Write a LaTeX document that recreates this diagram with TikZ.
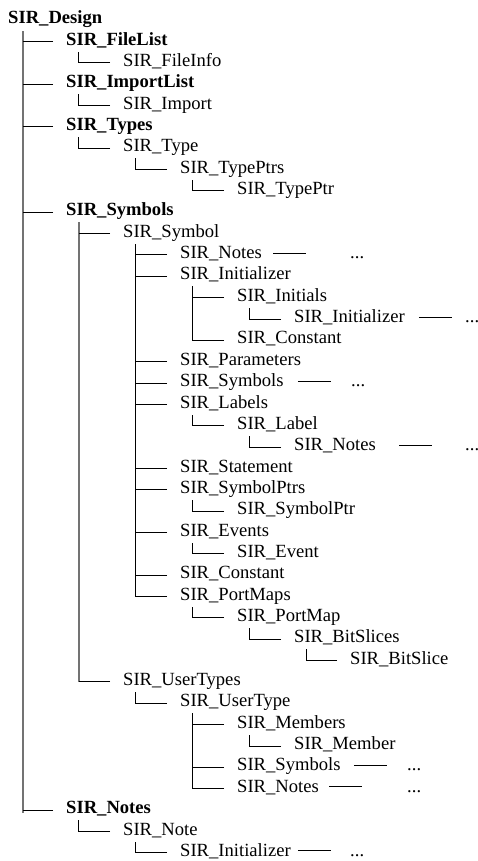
\documentclass[tikz,border=0pt]{standalone}
\usepackage{fontspec}
\setmainfont{Liberation Serif}
\begin{document}
\begin{tikzpicture}[x=1pt,y=-1pt,
  item/.style={anchor=base west,inner sep=0pt,font=\fontsize{18.6}{22}\selectfont},
  head/.style={item,font=\fontsize{18.6}{22}\selectfont\bfseries},
  conn/.style={draw=black,line width=0.8pt},
  spine/.style={draw=black!55,line width=1.4pt},
  dots/.style={item}]
\useasboundingbox (0,0) rectangle (478,861);

% tree entries (x = indent level, y = baseline)
\node[head] (n1)  at (8,23.7)    {SIR\_Design};
\node[head] (n2)  at (66,45.05)  {SIR\_FileList};
\node[item] (n3)  at (123,66.4)  {SIR\_FileInfo};
\node[head] (n4)  at (66,87.75)  {SIR\_ImportList};
\node[item] (n5)  at (123,109.1) {SIR\_Import};
\node[head] (n6)  at (66,130.45) {SIR\_Types};
\node[item] (n7)  at (123,151.8) {SIR\_Type};
\node[item] (n8)  at (180,173.15){SIR\_TypePtrs};
\node[item] (n9)  at (237,194.5) {SIR\_TypePtr};
\node[head] (n10) at (66,215.85) {SIR\_Symbols};
\node[item] (n11) at (123,237.2) {SIR\_Symbol};
\node[item] (n12) at (180,258.55){SIR\_Notes};
\node[item] (n13) at (180,279.9) {SIR\_Initializer};
\node[item] (n14) at (237,301.25){SIR\_Initials};
\node[item] (n15) at (294,322.6) {SIR\_Initializer};
\node[item] (n16) at (237,343.95){SIR\_Constant};
\node[item] (n17) at (180,365.3) {SIR\_Parameters};
\node[item] (n18) at (180,386.65){SIR\_Symbols};
\node[item] (n19) at (180,408.0) {SIR\_Labels};
\node[item] (n20) at (237,429.35){SIR\_Label};
\node[item] (n21) at (294,450.7) {SIR\_Notes};
\node[item] (n22) at (180,472.05){SIR\_Statement};
\node[item] (n23) at (180,493.4) {SIR\_SymbolPtrs};
\node[item] (n24) at (237,514.75){SIR\_SymbolPtr};
\node[item] (n25) at (180,536.1) {SIR\_Events};
\node[item] (n26) at (237,557.45){SIR\_Event};
\node[item] (n27) at (180,578.8) {SIR\_Constant};
\node[item] (n28) at (180,600.15){SIR\_PortMaps};
\node[item] (n29) at (237,621.5) {SIR\_PortMap};
\node[item] (n30) at (294,642.85){SIR\_BitSlices};
\node[item] (n31) at (350,664.2) {SIR\_BitSlice};
\node[item] (n32) at (123,685.55){SIR\_UserTypes};
\node[item] (n33) at (180,706.9) {SIR\_UserType};
\node[item] (n34) at (237,728.25){SIR\_Members};
\node[item] (n35) at (294,749.6) {SIR\_Member};
\node[item] (n36) at (237,770.95){SIR\_Symbols};
\node[item] (n37) at (237,792.3) {SIR\_Notes};
\node[head] (n38) at (66,813.65) {SIR\_Notes};
\node[item] (n39) at (123,835.0) {SIR\_Note};
\node[item] (n40) at (180,856.35){SIR\_Initializer};

% continuation marks
\node[dots] (d12) at (350,258.55) {...};
\node[dots] (d15) at (465,322.6)  {...};
\node[dots] (d18) at (351,386.65) {...};
\node[dots] (d21) at (465,450.7)  {...};
\node[dots] (d36) at (407,770.95) {...};
\node[dots] (d37) at (407,792.3)  {...};
\node[dots] (d40) at (350,856.35) {...};

% main spine and the spine under SIR_Symbols
\draw[spine] ([shift={(15pt,-7.5pt)}]n1.base west) -- ([shift={(15pt,1pt)}]n1.base west |- n38.base west);
\draw[spine] ([shift={(13pt,-6.5pt)}]n10.base west) -- ([shift={(13pt,3.7pt)}]n10.base west |- n32.base west);

% branches off the main spine
\foreach \c in {n2,n4,n6,n10,n38}
  \draw[conn] ([shift={(-13pt,3.7pt)}]\c.base west) -- ([shift={(15pt,3.7pt)}]n1.base west |- \c.base west);
% branches off the SIR_Symbols spine
\foreach \c in {n11,n32}
  \draw[conn] ([shift={(-13pt,3.7pt)}]\c.base west) -- ([shift={(13pt,3.7pt)}]n10.base west |- \c.base west);

% remaining parent/child links
\foreach \c/\p in {n3/n2,n5/n4,n7/n6,n8/n7,n9/n8,
                   n12/n11,n13/n11,n17/n11,n18/n11,n19/n11,n22/n11,n23/n11,n25/n11,n27/n11,n28/n11,
                   n14/n13,n16/n13,n15/n14,n20/n19,n21/n20,n24/n23,n26/n25,
                   n29/n28,n30/n29,n31/n30,
                   n33/n32,n34/n33,n36/n33,n37/n33,n35/n34,
                   n39/n38,n40/n39}
  \draw[conn] ([shift={(-13pt,3.7pt)}]\c.base west) -| ([shift={(12.5pt,-6.5pt)}]\p.base west);

% trailing lines before the continuation marks
\draw[conn] (n12.base east) ++(11pt,5.5pt) -- ++(33pt,0);
\draw[conn] (n15.base east) ++(14pt,5.5pt) -- ++(33pt,0);
\draw[conn] (n18.base east) ++(14pt,5.5pt) -- ++(33pt,0);
\draw[conn] (n21.base east) ++(23pt,5.5pt) -- ++(33pt,0);
\draw[conn] (n36.base east) ++(13pt,5.5pt) -- ++(33pt,0);
\draw[conn] (n37.base east) ++(10pt,5.5pt) -- ++(33pt,0);
\draw[conn] (n40.base east) ++(7pt,5.5pt) -- ++(33pt,0);
\end{tikzpicture}
\end{document}
